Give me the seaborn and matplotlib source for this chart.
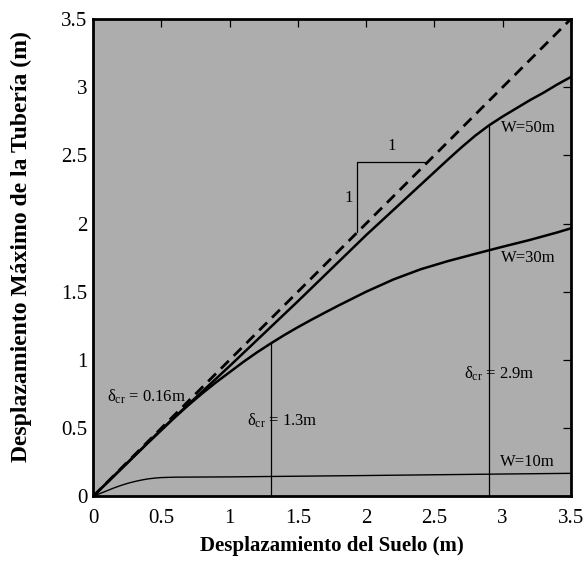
import matplotlib
matplotlib.use("Agg")
import matplotlib.pyplot as plt
import numpy as np
import pandas as pd
import seaborn as sns

# values
x_w50 = [0.0, 0.5, 1.0, 1.5, 2.0, 2.2, 2.4, 2.6, 2.7, 2.8, 2.9, 3.0,
         3.1, 3.2, 3.3, 3.4, 3.5]
y_w50 = [0.0, 0.49, 0.955, 1.43, 1.915, 2.10, 2.285, 2.47, 2.56, 2.645, 2.72, 2.785,
         2.845, 2.905, 2.96, 3.02, 3.075]

x_w30 = [0.0, 0.2, 0.4, 0.6, 0.7, 0.8, 0.9, 1.0, 1.1, 1.2, 1.3, 1.4, 1.5, 1.6, 1.7,
         1.8, 1.9, 2.0, 2.2, 2.4, 2.6, 2.8, 3.0, 3.2, 3.4, 3.5]
y_w30 = [0.0, 0.195, 0.39, 0.58, 0.67, 0.755, 0.835, 0.91, 0.985, 1.055, 1.12, 1.182,
         1.24, 1.295, 1.348, 1.40, 1.45, 1.50, 1.59, 1.665, 1.725, 1.778, 1.83, 1.88,
         1.935, 1.965]

x_w10 = [0.0, 0.05, 0.1, 0.15, 0.2, 0.25, 0.3, 0.35, 0.4, 0.45, 0.5, 0.6, 0.8, 1.0,
         2.0, 3.0, 3.5]
y_w10 = [0.0, 0.02, 0.04, 0.06, 0.078, 0.094, 0.107, 0.118, 0.127, 0.133, 0.137, 0.14,
         0.141, 0.142, 0.152, 0.163, 0.168]

x_ref = [0.0, 3.5]
y_ref = [0.0, 3.5]

delta_cr = [1.3, 2.9]
delta_top = [1.12, 2.72]

ticks = [0, 0.5, 1, 1.5, 2, 2.5, 3, 3.5]
tick_labels = ['0', '0.5', '1', '1.5', '2', '2.5', '3', '3.5']

sns.set_theme(style='ticks')
plt.rcParams['font.family'] = ['Liberation Serif', 'DejaVu Serif']
plt.rcParams['mathtext.fontset'] = 'custom'
plt.rcParams['mathtext.rm'] = 'Liberation Serif'
plt.rcParams['mathtext.it'] = 'Liberation Serif'
plt.rcParams['text.color'] = 'black'
plt.rcParams['axes.labelcolor'] = 'black'

fig, ax = plt.subplots(figsize=(5.86, 5.62), dpi=100)
fig.subplots_adjust(left=0.159, right=0.974, top=0.966, bottom=0.117)
ax.set_facecolor('#adadad')

sns.lineplot(x=x_ref, y=y_ref, ax=ax, color='black', lw=2)
ax.lines[-1].set_dashes((4, 2.5))
sns.lineplot(x=x_w50, y=y_w50, ax=ax, color='black', lw=1.8)
sns.lineplot(x=x_w30, y=y_w30, ax=ax, color='black', lw=1.8)
sns.lineplot(x=x_w10, y=y_w10, ax=ax, color='black', lw=1.0)

for xv, yv in zip(delta_cr, delta_top):
    ax.plot([xv, xv], [0, yv], color='black', lw=0.9)

# slope triangle
ax.plot([1.93, 1.93, 2.45], [1.94, 2.45, 2.45], color='black', lw=0.9)
ax.text(2.19, 2.51, '1', fontsize=12, ha='center', va='bottom')
ax.text(1.90, 2.19, '1', fontsize=12, ha='right', va='center')

ax.text(2.99, 2.70, 'W=50m', fontsize=12, va='center')
ax.text(2.99, 1.75, 'W=30m', fontsize=12, va='center')
ax.text(2.98, 0.25, 'W=10m', fontsize=12, va='center')

ax.text(0.10, 0.73, 'δ$_{\\mathrm{cr}}$ = 0.16m', fontsize=12, va='center')
ax.text(1.13, 0.55, 'δ$_{\\mathrm{cr}}$ = 1.3m', fontsize=12, va='center')
ax.text(2.72, 0.90, 'δ$_{\\mathrm{cr}}$ = 2.9m', fontsize=12, va='center')

ax.set_xlim(0, 3.5)
ax.set_ylim(0, 3.5)
ax.set_xticks(ticks)
ax.set_xticklabels(tick_labels)
ax.set_yticks(ticks)
ax.set_yticklabels(tick_labels)
ax.tick_params(axis='both', which='both', direction='in', labelsize=15,
               colors='black')
ax.tick_params(axis='x', pad=9)
ax.tick_params(axis='y', pad=4)
ax.tick_params(top=True, right=True, length=6, width=0.9)
ax.tick_params(bottom=False, left=False)

for s in ax.spines.values():
    s.set_linewidth(2)
    s.set_color('black')

ax.set_xlabel('Desplazamiento del Suelo (m)', fontsize=15, fontweight='bold', labelpad=6)
ax.set_ylabel('Desplazamiento Máximo de la Tubería (m)', fontsize=17, fontweight='bold')
ax.yaxis.set_label_coords(-0.128, 0.524)

fig.savefig('out.png', dpi=100)
